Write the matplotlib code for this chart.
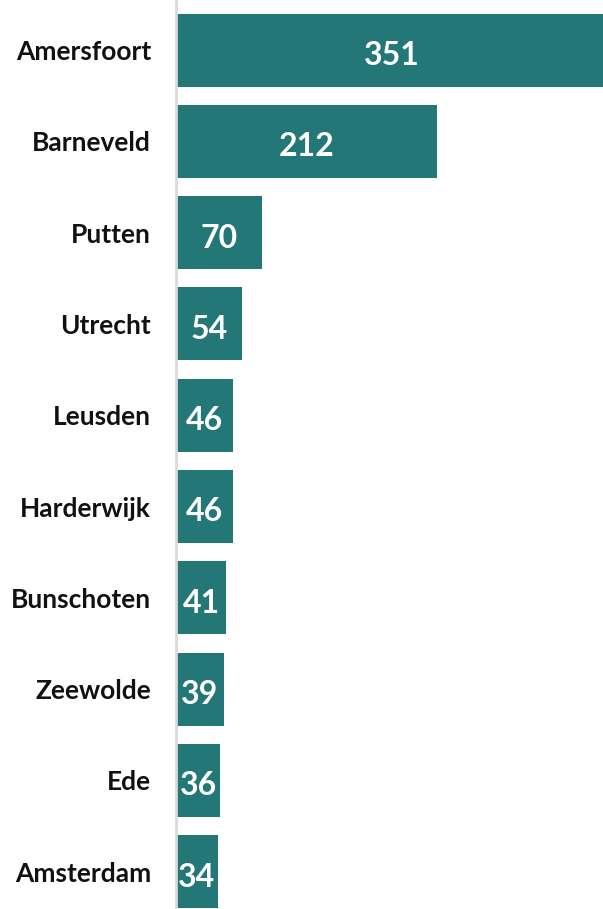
import matplotlib
matplotlib.use('Agg')
import matplotlib.pyplot as plt

# Gemeenten en aantallen
gemeenten = ['Amersfoort', 'Barneveld', 'Putten', 'Utrecht', 'Leusden',
             'Harderwijk', 'Bunschoten', 'Zeewolde', 'Ede', 'Amsterdam']
aantallen = [351, 212, 70, 54, 46, 46, 41, 39, 36, 34]

plt.rcParams['font.family'] = ['Lato', 'DejaVu Sans']

fig = plt.figure(figsize=(6.03, 9.09), dpi=100)
ax = fig.add_axes([176 / 603, 0, 1 - 176 / 603, 1])

kleur = '#237777'
y = list(range(len(gemeenten)))
ax.barh(y, aantallen, height=0.8, color=kleur)

ax.set_xlim(0, 347)
ax.set_ylim(9.41, -0.55)

# waarden in de balken
for i, v in enumerate(aantallen):
    ax.text(v / 2, i + 0.06, str(v), ha='center', va='center', color='white',
            fontsize=23, fontweight='bold')

ax.set_yticks(y)
ax.set_yticklabels(gemeenten, fontsize=19, fontweight='bold', color='#111111')
ax.tick_params(axis='y', length=0, pad=18)
for lbl in ax.get_yticklabels():
    lbl.set_y(lbl.get_position()[1])
ax.set_xticks([])

for s in ['top', 'right', 'bottom']:
    ax.spines[s].set_visible(False)
ax.spines['left'].set_color('#d9d9d9')
ax.spines['left'].set_linewidth(2)

fig.savefig('out.png', dpi=100)
